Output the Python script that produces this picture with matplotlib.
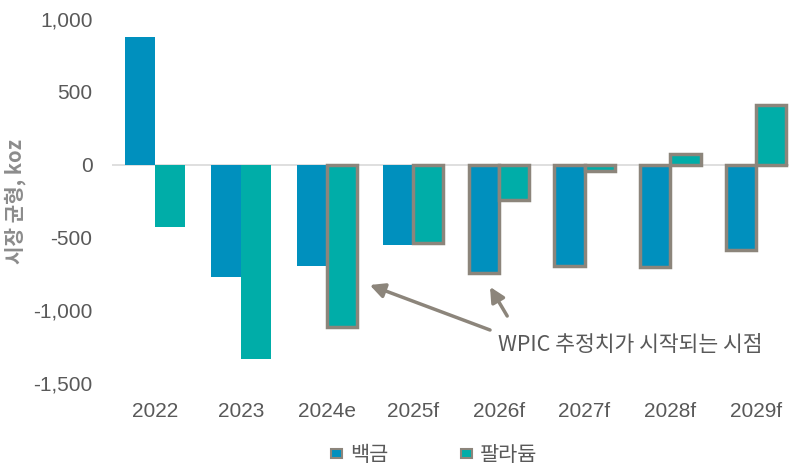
import numpy as np
import matplotlib.pyplot as plt
from matplotlib.patches import Patch

plt.rcParams['font.family'] = ['Liberation Sans', 'Noto Sans CJK KR', 'DejaVu Sans']

# market balance, koz
years = ['2022', '2023', '2024e', '2025f', '2026f', '2027f', '2028f', '2029f']
platinum = [876, -772, -696, -552, -744, -696, -703, -586]
palladium = [-429, -1335, -1115, -538, -243, -44, 73, 409]
# forecast bars get a grey outline
plat_forecast = [False, False, False, False, True, True, True, True]
pall_forecast = [False, False, True, True, True, True, True, True]

c_plat = '#0090BE'
c_pall = '#00ADA8'
c_edge = '#8C857B'
c_text = '#595959'
kr = ['Noto Sans CJK KR', 'DejaVu Sans']

fig = plt.figure(figsize=(7.89, 4.68), dpi=100)
ax = fig.add_axes([112 / 789, 85 / 468, 677 / 789, 364 / 468])

x = np.arange(len(years))
w = 0.35
for i in x:
    ax.bar(i - w / 2, platinum[i], w, color=c_plat,
           edgecolor=c_edge if plat_forecast[i] else 'none', linewidth=2.5, zorder=3)
    ax.bar(i + w / 2, palladium[i], w, color=c_pall,
           edgecolor=c_edge if pall_forecast[i] else 'none', linewidth=2.5, zorder=3)

ax.axhline(0, color='#D9D9D9', lw=1.2, zorder=2)
ax.set_xlim(-0.5, 7.38)
ax.set_ylim(-1500, 1000)
ax.set_yticks(np.arange(-1500, 1001, 500))
ax.yaxis.set_major_formatter(plt.FuncFormatter(lambda v, p: f'{int(v):,}'))
ax.set_xticks(x)
ax.set_xticklabels(years)
ax.tick_params(length=0, labelsize=15, colors=c_text)
ax.tick_params(axis='y', pad=14)
ax.tick_params(axis='x', pad=14)
for s in ax.spines.values():
    s.set_visible(False)

fig.text(15 / 789, 0.57, '시장 균형, koz', rotation=90, ha='center', va='center',
         fontsize=14.5, fontweight='bold', color='#8C8C8C', family=kr)

arrow = dict(arrowstyle='-|>', color=c_edge, lw=2.5, mutation_scale=22,
             shrinkA=0, shrinkB=0)
ax.annotate('', xy=(2.50, -827), xytext=(3.90, -1136), arrowprops=arrow)
ax.annotate('', xy=(3.90, -840), xytext=(4.10, -1040), arrowprops=arrow)
ax.text(3.99, -1238, 'WPIC 추정치가 시작되는 시점', fontsize=15.5, color=c_text,
        va='center', ha='left', family=kr)

handles = [Patch(facecolor=c_plat, edgecolor=c_edge, lw=1.5, label='백금'),
           Patch(facecolor=c_pall, edgecolor=c_edge, lw=1.5, label='팔라듐')]
leg = fig.legend(handles=handles, loc='center', bbox_to_anchor=(434 / 789, 13 / 468),
                 ncol=2, frameon=False, handlelength=0.55, handleheight=0.3,
                 handletextpad=0.35, columnspacing=3.5,
                 prop={'family': kr, 'size': 15})
for t in leg.get_texts():
    t.set_color(c_text)

fig.savefig('out.png', dpi=100)
